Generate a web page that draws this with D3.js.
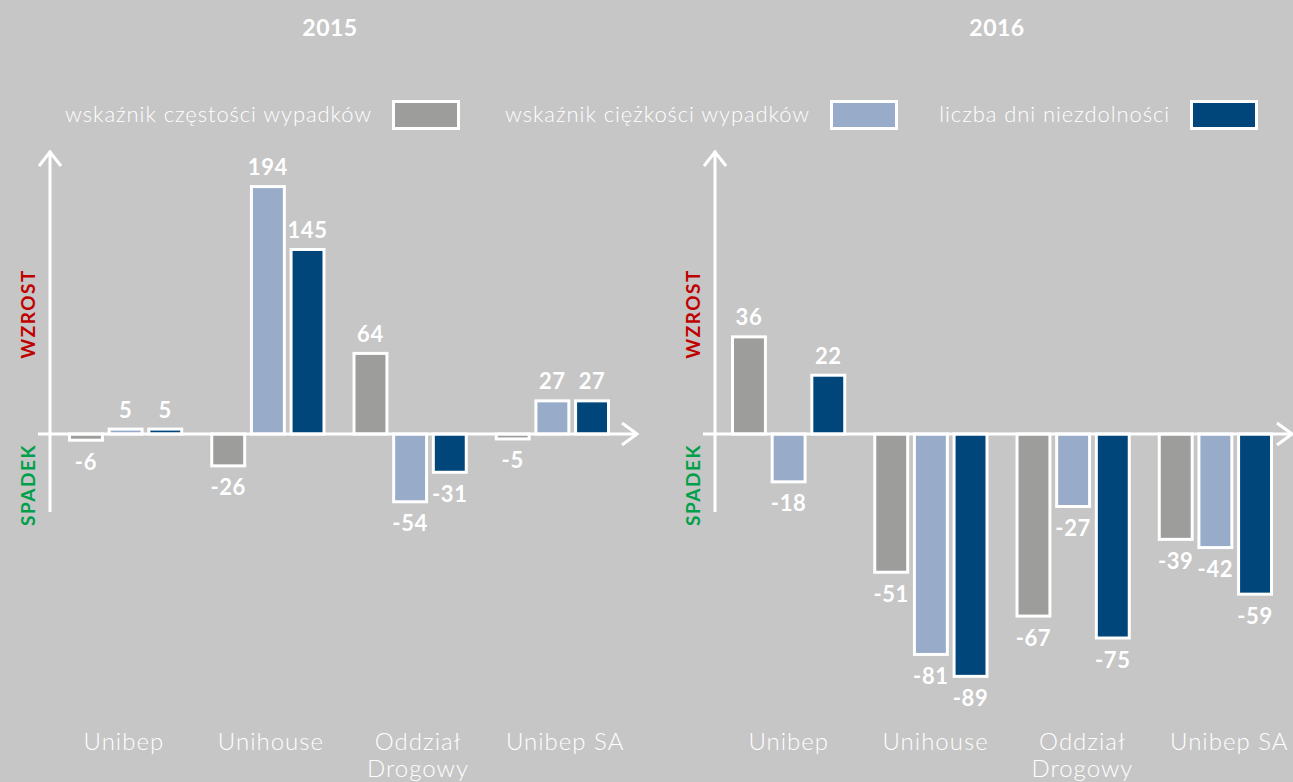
<!DOCTYPE html>
<html>
<head>
<meta charset="utf-8">
<script src="https://cdn.jsdelivr.net/npm/d3@7"></script>
<style>
  html, body { margin: 0; padding: 0; background: #c6c6c6; }
  svg { display: block; }
  .light { font-family: "Lato", "Open Sans", sans-serif; font-weight: 300; fill: #ffffff; }
  .bold { font-family: "Lato", "Open Sans", sans-serif; font-weight: 700; fill: #ffffff; }
</style>
</head>
<body>
<svg id="chart" width="1293" height="782"></svg>
<script>
// data
const categories = ["Unibep", "Unihouse", "Oddział Drogowy", "Unibep SA"];
const series = ["wskaźnik częstości wypadków", "wskaźnik ciężkości wypadków", "liczba dni niezdolności"];
const years = ["2015", "2016"];
const values2015 = [[-6, 5, 5], [-26, 194, 145], [64, -54, -31], [-5, 27, 27]];
const values2016 = [[36, -18, 22], [-51, -81, -89], [-67, -27, -75], [-39, -42, -59]];
const colors = ["#9d9d9b", "#98abc9", "#00467a"];

const W = 1293, H = 782;
const BASE_Y = 434;

let svg = d3.select("#chart");
svg.append("rect").attr("width", W).attr("height", H).attr("fill", "#c6c6c6");

// legend across the top
const legendRight = [372, 810, 1170];
series.forEach((name, i) => {
    svg.append("text")
        .attr("class", "light")
        .attr("x", legendRight[i])
        .attr("y", 122)
        .attr("text-anchor", "end")
        .style("font-size", "22px")
        .style("letter-spacing", "0.9px")
        .text(name);
    svg.append("rect")
        .attr("x", legendRight[i] + 21.5)
        .attr("y", 101.5)
        .attr("width", 65)
        .attr("height", 27)
        .attr("fill", colors[i])
        .attr("stroke", "#fff")
        .attr("stroke-width", 3);
});

function drawPanel(opt) {
    let g = svg.append("g");

    let x0 = d3.scaleBand()
        .domain(categories)
        .range(opt.xRange)
        .paddingInner(0.211);

    let x1 = d3.scaleBand()
        .domain(d3.range(series.length))
        .range([0, x0.bandwidth()])
        .paddingInner(0.17);

    let y = d3.scaleLinear()
        .domain(opt.yDomain)
        .range(opt.yRange);

    //title
    g.append("text")
        .attr("class", "bold")
        .attr("x", opt.titleX)
        .attr("y", 36)
        .attr("text-anchor", "middle")
        .style("font-size", "23px")
        .style("letter-spacing", "0.5px")
        .text(opt.title);

    let groups = g.selectAll("g.grp")
        .data(opt.values)
        .enter()
        .append("g")
        .attr("class", "grp")
        .attr("transform", (d, i) => "translate(" + x0(categories[i]) + ",0)");

    groups.selectAll("rect")
        .data(d => d.map((v, j) => ({v: v, j: j})))
        .enter()
        .append("rect")
        .attr("x", d => x1(d.j) + 1.5)
        .attr("width", x1.bandwidth())
        .attr("y", d => d.v >= 0 ? y(d.v) + 1.5 : y(0))
        .attr("height", d => Math.max(0, Math.abs(y(d.v) - y(0)) - 1.5))
        .attr("fill", d => colors[d.j])
        .attr("stroke", "#fff")
        .attr("stroke-width", 3);

    groups.selectAll("text")
        .data(d => d.map((v, j) => ({v: v, j: j})))
        .enter()
        .append("text")
        .attr("class", "bold")
        .attr("x", d => x1(d.j) + 1.5 + x1.bandwidth() / 2)
        .attr("y", d => d.v >= 0 ? y(d.v) - 10 : y(d.v) + 28)
        .attr("text-anchor", "middle")
        .style("font-size", "22px")
        .style("letter-spacing", "0.6px")
        .text(d => d.v);

    //axes: vertical arrow and horizontal arrow
    let ax = opt.axisX;
    g.append("line")
        .attr("x1", ax).attr("x2", ax)
        .attr("y1", 151).attr("y2", 512)
        .attr("stroke", "#fff").attr("stroke-width", 3);
    g.append("path")
        .attr("d", "M" + (ax - 11) + ",166L" + ax + ",152L" + (ax + 11) + ",166")
        .attr("fill", "none").attr("stroke", "#fff").attr("stroke-width", 3);
    g.append("line")
        .attr("x1", ax - 12).attr("x2", opt.arrowX - 1)
        .attr("y1", y(0)).attr("y2", y(0))
        .attr("stroke", "#fff").attr("stroke-width", 3);
    g.append("path")
        .attr("d", "M" + (opt.arrowX - 15) + "," + (y(0) - 11) + "L" + opt.arrowX + "," + y(0) + "L" + (opt.arrowX - 15) + "," + (y(0) + 11))
        .attr("fill", "none").attr("stroke", "#fff").attr("stroke-width", 3);

    //WZROST / SPADEK
    g.append("text")
        .attr("transform", "translate(" + (ax - 15) + ",314) rotate(-90)")
        .attr("text-anchor", "middle")
        .style("font-family", "Lato, 'Open Sans', sans-serif")
        .style("font-weight", 700)
        .style("font-size", "19px")
        .style("letter-spacing", "1.5px")
        .attr("fill", "#c00000")
        .text("WZROST");
    g.append("text")
        .attr("transform", "translate(" + (ax - 15) + ",485) rotate(-90)")
        .attr("text-anchor", "middle")
        .style("font-family", "Lato, 'Open Sans', sans-serif")
        .style("font-weight", 700)
        .style("font-size", "19px")
        .style("letter-spacing", "1.5px")
        .attr("fill", "#00a04a")
        .text("SPADEK");

    //category labels
    let xl = d3.scaleBand()
        .domain(categories)
        .range(opt.labelRange)
        .paddingInner(0.2);

    categories.forEach((c) => {
        let t = g.append("text")
            .attr("class", "light")
            .attr("text-anchor", "middle")
            .style("font-size", "24px")
            .style("letter-spacing", "1px");
        c.startsWith("Oddział")
            ? c.split(" ").forEach((w, k) => {
                t.append("tspan")
                    .attr("x", xl(c) + xl.bandwidth() / 2)
                    .attr("y", 750 + k * 27)
                    .text(w);
            })
            : t.attr("x", xl(c) + xl.bandwidth() / 2).attr("y", 750).text(c);
    });
}

drawPanel({
    title: years[0], titleX: 330,
    values: values2015,
    xRange: [68, 607],
    labelRange: [65, 624],
    yDomain: [-100, 200],
    yRange: [BASE_Y + 128.3, BASE_Y - 256.6],
    axisX: 50, arrowX: 637
});

drawPanel({
    title: years[1], titleX: 997,
    values: values2016,
    xRange: [731, 1270],
    labelRange: [730, 1288],
    yDomain: [-100, 100],
    yRange: [BASE_Y + 274, BASE_Y - 274],
    axisX: 715, arrowX: 1292
});
</script>
</body>
</html>
